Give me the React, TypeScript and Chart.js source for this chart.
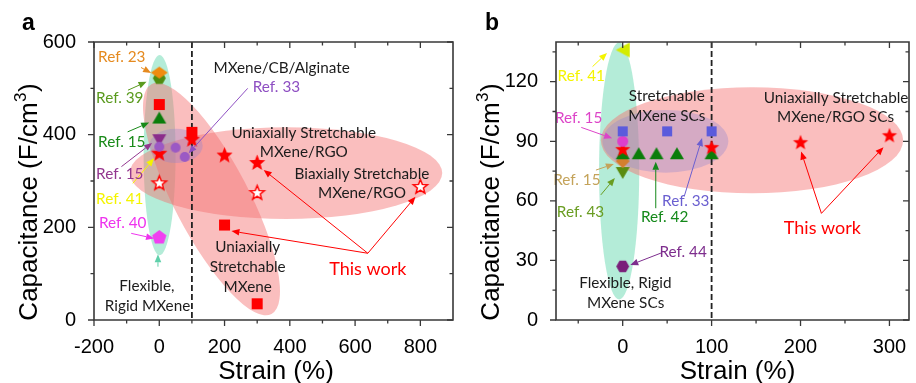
import React, { useEffect, useRef } from "react";
import { Chart, registerables } from "chart.js";
Chart.register(...registerables);

type Pt = [number, number];

// ---------------- Panel a data: Strain (%) vs Capacitance (F/cm3) ----------------
const aRef33: Pt[] = [[0, 374], [50, 372], [78, 352]];
const aRef40: Pt[] = [[0, 178]];
const aRef23: Pt[] = [[0, 534]];
const aRef39: Pt[] = [[0, 522]];
const aRef15Green: Pt[] = [[0, 437]];
const aRef15Purple: Pt[] = [[0, 388]];
const aThisWorkMXene: Pt[] = [[0, 465], [100, 405], [200, 205], [300, 35]];
const aThisWorkUniRGO: Pt[] = [[0, 360], [100, 390], [200, 356], [300, 340]];
const aThisWorkBiRGO: Pt[] = [[0, 296], [300, 275], [800, 288]];
const aXTicks = [-200, 0, 200, 400, 600, 800];
const aXMinor = [-100, 100, 300, 500, 700];
const aYTicks = [0, 200, 400, 600];
const aYMinor = [100, 300, 500];

// ---------------- Panel b data ----------------
const bRef41: Pt[] = [[0, 136]];
const bRef33: Pt[] = [[0, 95], [50, 95], [100, 95]];
const bRef15Pink: Pt[] = [[0, 90]];
const bThisWork: Pt[] = [[0, 86], [100, 87], [200, 89.5], [300, 93]];
const bRef42: Pt[] = [[0, 84], [18, 84], [38, 84], [61, 84], [100, 84]];
const bRef15Tan: Pt[] = [[0, 80]];
const bRef43: Pt[] = [[0, 74]];
const bRef44: Pt[] = [[0, 27]];
const bXTicks = [0, 100, 200, 300];
const bXMinor = [-50, 50, 150, 250];
const bYTicks = [0, 30, 60, 90, 120];
const bYMinor = [15, 45, 75, 105, 135];

// ---------------- styles ----------------
const RED = "#ff0000";
const BLACK = "#1c1c1c";
const YELLOW = "#f4f400";
const TEAL_FILL = "rgba(88, 213, 168, 0.45)";
const PINK_FILL = "rgba(244, 111, 111, 0.45)";
const LAV_FILL = "rgba(140, 130, 210, 0.33)";

type MarkerSpec = { shape: string; w: number; h?: number; fill?: string; stroke?: string; lw?: number };
type Series = { name: string; data: Pt[]; m: MarkerSpec };
type Label = { t: string; x: number; y: number; c?: string; size?: number };
type Arrow = { x1: number; y1: number; x2: number; y2: number; c: string };
type Ell = { cx: number; cy: number; ax: number; ay: number; bx: number; by: number; fill: string };

type Panel = {
  letter: string;
  xMin: number; xMax: number; yMin: number; yMax: number;
  xTicks: number[]; xMinor: number[]; yTicks: number[]; yMinor: number[];
  yAxisWidth: number; padRight: number;
  dashX: number;
  series: Series[];
  ellipses: Ell[];
  labels: Label[];
  arrows: Arrow[];
  yTitlePos: [number, number];
  xTitlePos: [number, number];
  letterPos: [number, number];
};

const PANEL_A: Panel = {
  letter: "a",
  xMin: -200, xMax: 900, yMin: 0, yMax: 600,
  xTicks: aXTicks, xMinor: aXMinor, yTicks: aYTicks, yMinor: aYMinor,
  yAxisWidth: 94, padRight: 2,
  dashX: 100,
  series: [
    { name: "Ref. 33", data: aRef33, m: { shape: "circle", w: 10, fill: "#9b59c4" } },
    { name: "Ref. 40", data: aRef40, m: { shape: "pentagon", w: 15, fill: "#f040f0" } },
    { name: "Ref. 23", data: aRef23, m: { shape: "diamond", w: 17, h: 12, fill: "#f08c10" } },
    { name: "Ref. 39", data: aRef39, m: { shape: "hexagon", w: 13, fill: "#4f8c10" } },
    { name: "Ref. 15 (green)", data: aRef15Green, m: { shape: "triUp", w: 14, h: 12, fill: "#0a7d0a" } },
    { name: "Ref. 15 (purple)", data: aRef15Purple, m: { shape: "triDown", w: 14, h: 12, fill: "#8b2c8b" } },
    { name: "This work MXene", data: aThisWorkMXene, m: { shape: "square", w: 11, fill: RED } },
    { name: "This work uniaxial MXene/RGO", data: aThisWorkUniRGO, m: { shape: "star", w: 17, fill: RED } },
    { name: "This work biaxial MXene/RGO", data: aThisWorkBiRGO, m: { shape: "star", w: 15, fill: "#ffffff", stroke: RED, lw: 1.5 } },
  ],
  ellipses: [
    { cx: 1, cy: 356, ax: 49, ay: 0, bx: 0, by: 216, fill: TEAL_FILL },
    { cx: 160, cy: 261, ax: 184, ay: -248, bx: 101, by: 38, fill: PINK_FILL },
    { cx: 388, cy: 317, ax: 479, ay: 0, bx: 0, by: 99, fill: PINK_FILL },
    { cx: 51, cy: 376, ax: 82, ay: 0, bx: 0, by: 37, fill: LAV_FILL },
  ],
  labels: [
    { t: "Ref. 23", x: -115, y: 568, c: "#e58a1f" },
    { t: "Ref. 39", x: -121, y: 479, c: "#5a9a1e" },
    { t: "Ref. 15", x: -115, y: 384, c: "#198a19" },
    { t: "Ref. 15", x: -121, y: 315, c: "#93378f" },
    { t: "Ref. 41", x: -121, y: 261, c: YELLOW },
    { t: "Ref. 40", x: -112, y: 209, c: "#ee33ee" },
    { t: "Flexible,", x: -38, y: 73 },
    { t: "Rigid MXene", x: -36, y: 30 },
    { t: "MXene/CB/Alginate", x: 375, y: 544 },
    { t: "Ref. 33", x: 359, y: 502, c: "#8e4fc2" },
    { t: "Uniaxially Stretchable", x: 443, y: 404 },
    { t: "MXene/RGO", x: 443, y: 363 },
    { t: "Biaxially Stretchable", x: 621, y: 315 },
    { t: "MXene/RGO", x: 621, y: 273 },
    { t: "Uniaxially", x: 271, y: 157 },
    { t: "Stretchable", x: 271, y: 114 },
    { t: "MXene", x: 271, y: 71 },
    { t: "This work", x: 639, y: 110, c: RED, size: 18 },
  ],
  arrows: [
    { x1: -56, y1: 545, x2: -25, y2: 533, c: "#e58a1f" },
    { x1: -96, y1: 496, x2: -39, y2: 514, c: "#5a9a1e" },
    { x1: -97, y1: 406, x2: -31, y2: 426, c: "#198a19" },
    { x1: -116, y1: 331, x2: -22, y2: 382, c: "#93378f" },
    { x1: -81, y1: 295, x2: -16, y2: 349, c: YELLOW },
    { x1: -86, y1: 187, x2: -16, y2: 176, c: "#ee33ee" },
    { x1: -4, y1: 115, x2: -4, y2: 142, c: "#5fd0aa" },
    { x1: 271, y1: 500, x2: 90, y2: 360, c: "#8e4fc2" },
    { x1: 639, y1: 144, x2: 221, y2: 192, c: RED },
    { x1: 639, y1: 144, x2: 320, y2: 324, c: RED },
    { x1: 639, y1: 144, x2: 785, y2: 266, c: RED },
  ],
  yTitlePos: [37, 202.5],
  xTitlePos: [276, 379],
  letterPos: [22, 30],
};

const PANEL_B: Panel = {
  letter: "b",
  xMin: -75, xMax: 322, yMin: 0, yMax: 140,
  xTicks: bXTicks, xMinor: bXMinor, yTicks: bYTicks, yMinor: bYMinor,
  yAxisWidth: 96, padRight: 0,
  dashX: 100,
  series: [
    { name: "Ref. 41", data: bRef41, m: { shape: "triLeft", w: 14, h: 15, fill: "#d4ec00" } },
    { name: "Ref. 33", data: bRef33, m: { shape: "square", w: 10, fill: "#5b5bdc" } },
    { name: "Ref. 15 (pink)", data: bRef15Pink, m: { shape: "circle", w: 11, fill: "#dd3fcc" } },
    { name: "This work", data: bThisWork, m: { shape: "star", w: 16, fill: RED } },
    { name: "Ref. 42", data: bRef42, m: { shape: "triUp", w: 14, h: 12, fill: "#0a7d0a" } },
    { name: "Ref. 15 (tan)", data: bRef15Tan, m: { shape: "diamond", w: 14, h: 14, fill: "#d47f2e" } },
    { name: "Ref. 43", data: bRef43, m: { shape: "triDown", w: 14, h: 12, fill: "#5a8c10" } },
    { name: "Ref. 44", data: bRef44, m: { shape: "hexagon", w: 13, fill: "#7a1e7a" } },
  ],
  ellipses: [
    { cx: -4, cy: 75, ax: 22.6, ay: 0, bx: 0, by: 64.7, fill: TEAL_FILL },
    { cx: 145.4, cy: 90.5, ax: 170, ay: 0, bx: 0, by: 26.7, fill: PINK_FILL },
    { cx: 48, cy: 90, ax: 70.8, ay: 0, bx: 0, by: 15.8, fill: LAV_FILL },
  ],
  labels: [
    { t: "Ref. 41", x: -46.6, y: 123, c: YELLOW },
    { t: "Stretchable", x: 49.6, y: 112.7 },
    { t: "MXene SCs", x: 49.6, y: 102.9 },
    { t: "Uniaxially Stretchable", x: 240, y: 112 },
    { t: "MXene/RGO SCs", x: 239.3, y: 102 },
    { t: "Ref. 15", x: -49.6, y: 101.9, c: "#dd44c8" },
    { t: "Ref. 15", x: -51.5, y: 70.5, c: "#c4a35a" },
    { t: "Ref. 43", x: -47.4, y: 54.5, c: "#6a9d22" },
    { t: "Ref. 42", x: 47.1, y: 52, c: "#14891a" },
    { t: "Ref. 33", x: 70.9, y: 59.9, c: "#6a5fd0" },
    { t: "Ref. 44", x: 68, y: 34.2, c: "#7d2d8d" },
    { t: "Flexible, Rigid", x: 3, y: 18.5 },
    { t: "MXene SCs", x: 3.3, y: 8.6 },
    { t: "This work", x: 224.6, y: 46.2, c: RED, size: 18 },
  ],
  arrows: [
    { x1: -33.9, y1: 127.6, x2: -17.6, y2: 134.5, c: YELLOW },
    { x1: -46.6, y1: 97, x2: -11.8, y2: 91.5, c: "#dd44c8" },
    { x1: -30.1, y1: 75.5, x2: -9.9, y2: 78.6, c: "#c4a35a" },
    { x1: -24.6, y1: 63, x2: -8.8, y2: 71.5, c: "#6a9d22" },
    { x1: 37.2, y1: 56.3, x2: 37.2, y2: 79.7, c: "#14891a" },
    { x1: 69.1, y1: 62.1, x2: 89.3, y2: 91.6, c: "#6a5fd0" },
    { x1: 43, y1: 33.7, x2: 8.5, y2: 27.7, c: "#7d2d8d" },
    { x1: 223.5, y1: 53.7, x2: 200.7, y2: 84.8, c: RED },
    { x1: 223.5, y1: 53.7, x2: 293.3, y2: 87, c: RED },
  ],
  yTitlePos: [38.7, 202.5],
  xTitlePos: [277.5, 379],
  letterPos: [25, 30],
};

const AXIS_FONT = '"Liberation Sans", Arial, sans-serif';
const NOTE_FONT = 'Lato, "Noto Sans", sans-serif';
const NOTE_SIZE = 15.3;

function makeMarker(m: MarkerSpec): HTMLCanvasElement {
  const w = m.w;
  const h = m.h ?? m.w;
  const pad = 2;
  const c = document.createElement("canvas");
  c.width = Math.round(w + 2 * pad);
  c.height = Math.round(h + 2 * pad);
  const g = c.getContext("2d")!;
  const cx = c.width / 2;
  const cy = c.height / 2;
  g.beginPath();
  const poly = (n: number, r: number, start: number) => {
    for (let i = 0; i < n; i++) {
      const a = start + (i * 2 * Math.PI) / n;
      const px = cx + r * Math.cos(a);
      const py = cy + r * Math.sin(a);
      if (i === 0) g.moveTo(px, py);
      else g.lineTo(px, py);
    }
    g.closePath();
  };
  switch (m.shape) {
    case "square":
      g.rect(cx - w / 2, cy - h / 2, w, h);
      break;
    case "circle":
      g.arc(cx, cy, w / 2, 0, Math.PI * 2);
      break;
    case "diamond":
      g.moveTo(cx, cy - h / 2);
      g.lineTo(cx + w / 2, cy);
      g.lineTo(cx, cy + h / 2);
      g.lineTo(cx - w / 2, cy);
      g.closePath();
      break;
    case "triUp":
      g.moveTo(cx, cy - h / 2);
      g.lineTo(cx + w / 2, cy + h / 2);
      g.lineTo(cx - w / 2, cy + h / 2);
      g.closePath();
      break;
    case "triDown":
      g.moveTo(cx, cy + h / 2);
      g.lineTo(cx + w / 2, cy - h / 2);
      g.lineTo(cx - w / 2, cy - h / 2);
      g.closePath();
      break;
    case "triLeft":
      g.moveTo(cx - w / 2, cy);
      g.lineTo(cx + w / 2, cy - h / 2);
      g.lineTo(cx + w / 2, cy + h / 2);
      g.closePath();
      break;
    case "pentagon":
      poly(5, w / 2, -Math.PI / 2);
      break;
    case "hexagon":
      poly(6, w / 2, 0);
      break;
    case "star": {
      const R = w / 2;
      const r = R * 0.43;
      for (let i = 0; i < 10; i++) {
        const a = -Math.PI / 2 + (i * Math.PI) / 5;
        const rad = i % 2 === 0 ? R : r;
        const px = cx + rad * Math.cos(a);
        const py = cy + 0.5 + rad * Math.sin(a);
        if (i === 0) g.moveTo(px, py);
        else g.lineTo(px, py);
      }
      g.closePath();
      break;
    }
  }
  if (m.fill) {
    g.fillStyle = m.fill;
    g.fill();
  }
  if (m.stroke) {
    g.strokeStyle = m.stroke;
    g.lineWidth = m.lw ?? 1;
    g.lineJoin = "miter";
    g.stroke();
  }
  return c;
}

function drawArrow(ctx: CanvasRenderingContext2D, x1: number, y1: number, x2: number, y2: number, color: string) {
  const ang = Math.atan2(y2 - y1, x2 - x1);
  const L = 8;
  const W = 3.3;
  const bx = x2 - L * Math.cos(ang);
  const by = y2 - L * Math.sin(ang);
  ctx.strokeStyle = color;
  ctx.lineWidth = 1;
  ctx.beginPath();
  ctx.moveTo(x1, y1);
  ctx.lineTo(bx, by);
  ctx.stroke();
  ctx.fillStyle = color;
  ctx.beginPath();
  ctx.moveTo(x2, y2);
  ctx.lineTo(bx + W * Math.sin(ang), by - W * Math.cos(ang));
  ctx.lineTo(bx - W * Math.sin(ang), by + W * Math.cos(ang));
  ctx.closePath();
  ctx.fill();
}

function panelPlugin(p: Panel) {
  return {
    id: "panel-" + p.letter,
    beforeDatasetsDraw(chart: any) {
      const { ctx, chartArea: ca } = chart;
      const xs = chart.scales.x;
      const ys = chart.scales.y;
      ctx.save();
      ctx.beginPath();
      ctx.rect(ca.left, ca.top, ca.right - ca.left, ca.bottom - ca.top);
      ctx.clip();
      for (const e of p.ellipses) {
        const cx = xs.getPixelForValue(e.cx);
        const cy = ys.getPixelForValue(e.cy);
        const Ax = xs.getPixelForValue(e.cx + e.ax) - cx;
        const Ay = ys.getPixelForValue(e.cy + e.ay) - cy;
        const Bx = xs.getPixelForValue(e.cx + e.bx) - cx;
        const By = ys.getPixelForValue(e.cy + e.by) - cy;
        ctx.save();
        ctx.beginPath();
        ctx.transform(Ax, Ay, Bx, By, cx, cy);
        ctx.arc(0, 0, 1, 0, Math.PI * 2);
        ctx.restore();
        ctx.fillStyle = e.fill;
        ctx.fill();
      }
      const dx = xs.getPixelForValue(p.dashX);
      ctx.setLineDash([6, 3]);
      ctx.strokeStyle = "#222";
      ctx.lineWidth = 1.8;
      ctx.beginPath();
      ctx.moveTo(dx, ca.top);
      ctx.lineTo(dx, ca.bottom);
      ctx.stroke();
      ctx.restore();
    },
    afterDatasetsDraw(chart: any) {
      const { ctx, chartArea: ca } = chart;
      const xs = chart.scales.x;
      const ys = chart.scales.y;
      ctx.save();
      for (const a of p.arrows) {
        drawArrow(ctx, xs.getPixelForValue(a.x1), ys.getPixelForValue(a.y1), xs.getPixelForValue(a.x2), ys.getPixelForValue(a.y2), a.c);
      }
      ctx.textAlign = "center";
      ctx.textBaseline = "middle";
      for (const l of p.labels) {
        ctx.font = `${l.size ?? NOTE_SIZE}px ${NOTE_FONT}`;
        ctx.fillStyle = l.c ?? BLACK;
        ctx.fillText(l.t, xs.getPixelForValue(l.x), ys.getPixelForValue(l.y));
      }
      ctx.strokeStyle = "#383838";
      ctx.lineWidth = 1.6;
      ctx.beginPath();
      ctx.rect(ca.left, ca.top, ca.right - ca.left, ca.bottom - ca.top);
      ctx.stroke();
      ctx.lineWidth = 1.3;
      const tickSet = (xv: number[], yv: number[], len: number) => {
        ctx.beginPath();
        for (const v of xv) {
          const px = xs.getPixelForValue(v);
          ctx.moveTo(px, ca.bottom);
          ctx.lineTo(px, ca.bottom + len);
          ctx.moveTo(px, ca.top);
          ctx.lineTo(px, ca.top + len);
        }
        for (const v of yv) {
          const py = ys.getPixelForValue(v);
          ctx.moveTo(ca.left, py);
          ctx.lineTo(ca.left - len, py);
          ctx.moveTo(ca.right, py);
          ctx.lineTo(ca.right - len, py);
        }
        ctx.stroke();
      };
      tickSet(p.xTicks, p.yTicks, 6);
      tickSet(p.xMinor, p.yMinor, 3.5);
      ctx.fillStyle = "#000";
      ctx.textBaseline = "alphabetic";
      ctx.font = `26px ${AXIS_FONT}`;
      ctx.textAlign = "center";
      ctx.fillText("Strain (%)", p.xTitlePos[0], p.xTitlePos[1]);
      ctx.save();
      ctx.translate(p.yTitlePos[0], p.yTitlePos[1]);
      ctx.rotate(-Math.PI / 2);
      ctx.textAlign = "left";
      const main = "Capacitance (F/cm";
      const sup = "3";
      const end = ")";
      ctx.font = `26px ${AXIS_FONT}`;
      const w1 = ctx.measureText(main).width;
      const w3 = ctx.measureText(end).width;
      ctx.font = `17px ${AXIS_FONT}`;
      const w2 = ctx.measureText(sup).width;
      let sx = -(w1 + w2 + w3) / 2;
      ctx.font = `26px ${AXIS_FONT}`;
      ctx.fillText(main, sx, 0);
      sx += w1;
      ctx.font = `17px ${AXIS_FONT}`;
      ctx.fillText(sup, sx + 0.5, -11);
      sx += w2 + 1;
      ctx.font = `26px ${AXIS_FONT}`;
      ctx.fillText(end, sx, 0);
      ctx.restore();
      ctx.font = `bold 23px ${AXIS_FONT}`;
      ctx.textAlign = "left";
      ctx.fillText(p.letter, p.letterPos[0], p.letterPos[1]);
      ctx.restore();
    },
  };
}

function buildChart(canvas: HTMLCanvasElement, p: Panel): Chart {
  const datasets = p.series.map((s) => ({
    label: s.name,
    data: s.data.map(([x, y]) => ({ x, y })),
    pointStyle: makeMarker(s.m) as any,
    pointRadius: 6,
    pointHoverRadius: 6,
    showLine: false,
  }));
  const tickFont = { family: AXIS_FONT, size: 20 };
  return new Chart(canvas, {
    type: "scatter",
    data: { datasets } as any,
    options: {
      responsive: false,
      animation: false,
      devicePixelRatio: 1,
      events: [],
      layout: { padding: { top: 42, right: p.padRight, left: 0, bottom: 0 } },
      plugins: { legend: { display: false }, tooltip: { enabled: false } },
      scales: {
        x: {
          type: "linear",
          bounds: "data",
          min: p.xMin,
          max: p.xMax,
          grid: { display: false },
          border: { display: false },
          ticks: { font: tickFont, color: "#000", padding: 7, maxRotation: 0, callback: (v: any) => String(v) },
          afterBuildTicks: (s: any) => {
            s.ticks = p.xTicks.map((v) => ({ value: v }));
          },
          afterFit: (s: any) => {
            s.height = 63;
            s.paddingLeft = 0;
            s.paddingRight = 0;
          },
        },
        y: {
          type: "linear",
          bounds: "data",
          min: p.yMin,
          max: p.yMax,
          grid: { display: false },
          border: { display: false },
          ticks: { font: tickFont, color: "#000", padding: 10, callback: (v: any) => String(v) },
          afterBuildTicks: (s: any) => {
            s.ticks = p.yTicks.map((v) => ({ value: v }));
          },
          afterFit: (s: any) => {
            s.width = p.yAxisWidth;
            s.paddingTop = 0;
            s.paddingBottom = 0;
          },
        },
      },
    } as any,
    plugins: [panelPlugin(p) as any],
  });
}

export default function App() {
  const refA = useRef<HTMLCanvasElement>(null);
  const refB = useRef<HTMLCanvasElement>(null);
  useEffect(() => {
    const ca = buildChart(refA.current!, PANEL_A);
    const cb = buildChart(refB.current!, PANEL_B);
    return () => {
      ca.destroy();
      cb.destroy();
    };
  }, []);
  return (
    <div style={{ position: "fixed", left: 0, top: 0, width: 916, height: 383, background: "#fff", overflow: "hidden" }}>
      <canvas ref={refA} width={460} height={383} style={{ position: "absolute", left: 0, top: 0 }} />
      <canvas ref={refB} width={456} height={383} style={{ position: "absolute", left: 460, top: 0 }} />
    </div>
  );
}
